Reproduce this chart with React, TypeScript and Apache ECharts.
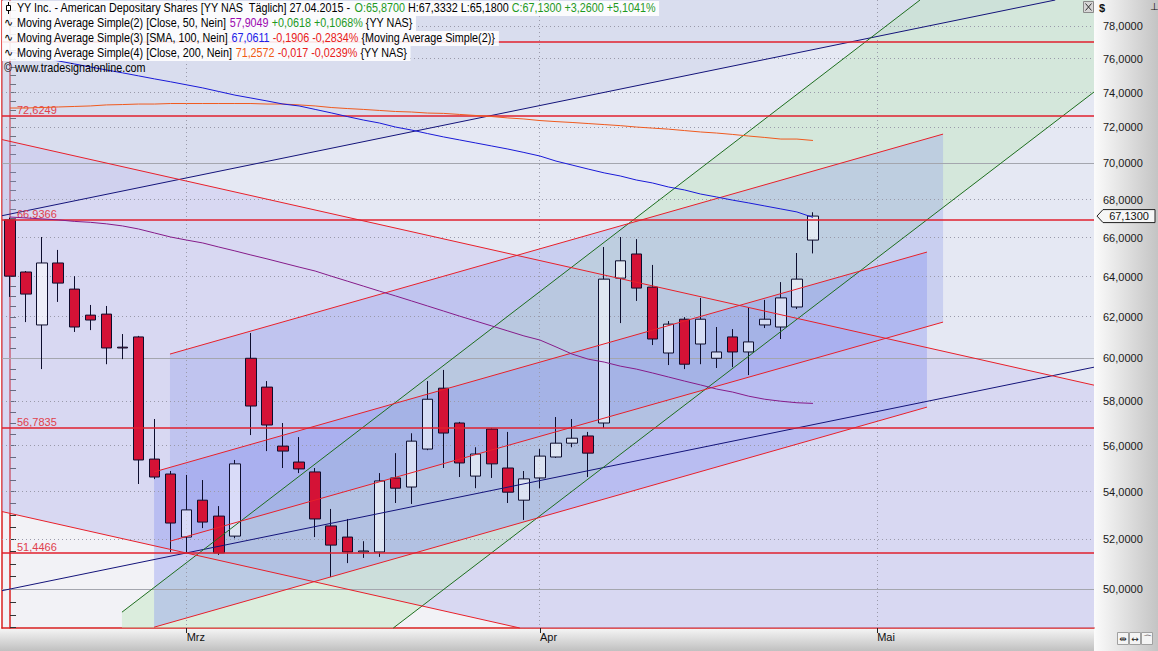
import React, { useEffect, useRef } from 'react';
import * as echarts from 'echarts';

// ---------------- data ----------------
const categories: string[] = [
  '12.02.2015','13.02.2015','17.02.2015','18.02.2015','19.02.2015','20.02.2015','23.02.2015','24.02.2015','25.02.2015','26.02.2015','27.02.2015',
  '02.03.2015','03.03.2015','04.03.2015','05.03.2015','06.03.2015','09.03.2015','10.03.2015','11.03.2015','12.03.2015','13.03.2015','16.03.2015','17.03.2015','18.03.2015','19.03.2015','20.03.2015','23.03.2015','24.03.2015','25.03.2015','26.03.2015','27.03.2015','30.03.2015','31.03.2015',
  '01.04.2015','02.04.2015','06.04.2015','07.04.2015','08.04.2015','09.04.2015','10.04.2015','13.04.2015','14.04.2015','15.04.2015','16.04.2015','17.04.2015','20.04.2015','21.04.2015','22.04.2015','23.04.2015','24.04.2015','27.04.2015',
  '28.04.2015','29.04.2015','30.04.2015','01.05.2015','04.05.2015','05.05.2015','06.05.2015','07.05.2015','08.05.2015','11.05.2015','12.05.2015','13.05.2015','14.05.2015','15.05.2015','18.05.2015','19.05.2015','20.05.2015'
];
const monthTickDates = ['02.03.2015', '01.04.2015', '01.05.2015'];
const monthTickLabels = ['Mrz', 'Apr', 'Mai'];

const opens = [66.93,64.23,61.60,64.69,63.37,62.08,62.13,60.53,61.02,55.41,54.76,52.10,53.64,52.97,52.14,60.00,58.65,55.98,55.28,54.85,52.56,52.10,51.49,51.49,54.59,54.20,55.85,58.60,57.01,54.67,56.74,55.02,53.64,54.59,55.50,56.11,56.43,57.01,63.92,65.15,63.47,60.25,61.88,60.68,60.00,61.02,60.30,61.60,61.50,62.48,65.87];
const closes = [64.02,63.12,64.69,63.67,61.50,61.84,60.49,60.49,55.37,54.63,52.68,53.23,52.72,51.45,55.20,57.78,56.92,55.76,54.98,52.85,51.77,51.49,51.53,54.46,54.15,56.20,58.09,56.56,55.24,55.63,55.20,53.98,54.55,55.54,56.11,56.33,55.67,63.87,64.80,63.42,60.92,61.64,59.72,61.88,60.30,60.30,60.78,61.88,62.93,63.87,67.13];
const lows = [62.98,61.74,59.49,62.73,61.26,61.35,59.72,59.96,54.33,54.54,51.49,51.45,52.47,51.37,52.05,56.47,55.76,55.02,54.80,52.10,50.48,51.04,51.25,51.29,53.52,53.48,55.80,55.02,54.63,54.15,54.59,53.52,52.81,54.15,55.46,55.93,54.63,56.79,61.69,62.78,60.63,59.68,59.49,59.72,59.54,59.58,59.21,61.45,60.92,62.38,65.18];
const highs = [67.05,64.28,66.03,65.36,64.02,62.58,62.53,61.16,61.07,57.19,54.89,54.72,54.50,53.39,55.37,61.21,58.93,57.01,56.38,55.02,53.27,52.85,51.93,54.80,55.67,56.55,58.93,59.45,57.06,55.93,56.79,56.61,54.89,55.85,57.28,57.19,56.61,65.51,66.03,65.92,64.59,61.79,61.98,62.93,61.50,61.40,62.43,62.83,63.72,65.20,67.3332];

const ma50 = [67.08,67.03,66.98,66.93,66.85,66.80,66.72,66.61,66.45,66.24,66.03,65.87,65.72,65.51,65.31,65.10,64.90,64.69,64.48,64.28,64.02,63.77,63.52,63.27,63.03,62.78,62.53,62.28,62.03,61.79,61.55,61.31,61.07,60.87,60.54,60.20,59.96,59.82,59.63,59.49,59.31,59.12,58.93,58.75,58.56,58.42,58.23,58.09,58.00,57.93,57.90];
const ma100 = [76.42,76.24,76.06,75.88,75.70,75.52,75.34,75.17,74.99,74.81,74.64,74.46,74.28,74.07,73.86,73.69,73.52,73.34,73.23,73.03,72.83,72.62,72.42,72.25,72.02,71.85,71.65,71.46,71.29,71.12,70.95,70.78,70.59,70.39,70.11,69.89,69.67,69.46,69.29,69.07,68.91,68.69,68.53,68.31,68.15,67.98,67.83,67.67,67.51,67.35,67.06];
const ma200 = [73.11,73.11,73.14,73.17,73.20,73.23,73.29,73.31,73.34,73.34,73.37,73.37,73.37,73.37,73.37,73.37,73.34,73.34,73.29,73.23,73.14,73.08,73.03,72.97,72.91,72.88,72.82,72.80,72.74,72.68,72.62,72.54,72.48,72.39,72.33,72.28,72.22,72.16,72.10,72.02,71.96,71.90,71.82,71.74,71.68,71.60,71.51,71.43,71.34,71.34,71.26];

const yTicks = [50, 52, 54, 56, 58, 60, 62, 64, 66, 68, 70, 72, 74, 76, 78];
const solidGridValues = [50, 60, 70];
const levelLines = [77.05, 72.6249, 66.9366, 56.7835, 51.4466];
const labelledLevels = [72.6249, 66.9366, 56.7835, 51.4466];
const yMinPrice = 48.49;
const yMaxPrice = 79.62;
const lastClose = 67.13;
const topBound = 95;

// trend lines: [category index, price]
const fallA = [[-0.5, 71.31], [67.5, 58.74]];
const fallB = [[-0.5, 53.16], [67.5, 43.79]];
const blueUp = [[-0.5, 67.15], [67.5, 80.12]];
const blueLow = [[-0.5, 49.94], [67.5, 59.58]];
const red1 = [[9.96, 60.20], [58.1, 71.62]];
const red2 = [[8.97, 54.85], [57.1, 65.25]];
const red3 = [[9.96, 51.93], [58.1, 61.74]];
const red4 = [[8.97, 48.52], [57.1, 57.73]];
const green1 = [[6.97, 49.10], [67.5, 88.47]];
const green2 = [[6.97, 41.16], [67.5, 74.04]];

// ---------------- helpers ----------------
const SANS = '"Liberation Sans", Arial, sans-serif';
const fmt4 = (v: number) => v.toFixed(4).replace('.', ',');

function clipPolygon(pts: number[][], x0: number, y0: number, x1: number, y1: number): number[][] {
  const clipEdge = (input: number[][], inside: (p: number[]) => boolean, inter: (a: number[], b: number[]) => number[]) => {
    const out: number[][] = [];
    for (let i = 0; i < input.length; i++) {
      const cur = input[i];
      const prev = input[(i + input.length - 1) % input.length];
      const ci = inside(cur), pi = inside(prev);
      if (ci) {
        if (!pi) out.push(inter(prev, cur));
        out.push(cur);
      } else if (pi) {
        out.push(inter(prev, cur));
      }
    }
    return out;
  };
  const ix = (xv: number) => (a: number[], b: number[]) => {
    const t = (xv - a[0]) / (b[0] - a[0]);
    return [xv, a[1] + t * (b[1] - a[1])];
  };
  const iy = (yv: number) => (a: number[], b: number[]) => {
    const t = (yv - a[1]) / (b[1] - a[1]);
    return [a[0] + t * (b[0] - a[0]), yv];
  };
  let r = pts;
  r = clipEdge(r, (p) => p[0] >= x0, ix(x0)); if (!r.length) return r;
  r = clipEdge(r, (p) => p[0] <= x1, ix(x1)); if (!r.length) return r;
  r = clipEdge(r, (p) => p[1] >= y0, iy(y0)); if (!r.length) return r;
  r = clipEdge(r, (p) => p[1] <= y1, iy(y1));
  return r;
}

function clipSeg(a: number[], b: number[], x0: number, y0: number, x1: number, y1: number) {
  let t0 = 0, t1 = 1;
  const dx = b[0] - a[0], dy = b[1] - a[1];
  const p = [-dx, dx, -dy, dy];
  const q = [a[0] - x0, x1 - a[0], a[1] - y0, y1 - a[1]];
  for (let i = 0; i < 4; i++) {
    if (p[i] === 0) {
      if (q[i] < 0) return null;
    } else {
      const t = q[i] / p[i];
      if (p[i] < 0) { if (t > t1) return null; if (t > t0) t0 = t; }
      else { if (t < t0) return null; if (t < t1) t1 = t; }
    }
  }
  return [[a[0] + t0 * dx, a[1] + t0 * dy], [a[0] + t1 * dx, a[1] + t1 * dy]];
}

export default function App() {
  const ref = useRef<HTMLDivElement>(null);

  useEffect(() => {
    document.body.style.margin = '0';
    const chart = echarts.init(ref.current!, undefined, { renderer: 'svg' });
    const ln = Math.log;
    const monthIdx = monthTickDates.map((d) => categories.indexOf(d));
    const xLo = -0.5, xHi = categories.length - 0.5;
    const crisp = (v: number) => Math.round(v - 0.5) + 0.5;

    const P = (api: any, p: number[]) => api.coord([p[0], ln(p[1])]);
    const poly = (api: any, cs: any, pts: number[][], fill: string) => {
      const px = clipPolygon(pts.map((p) => P(api, p)), cs.x, cs.y, cs.x + cs.width, cs.y + cs.height);
      return px.length > 2 ? { type: 'polygon', shape: { points: px }, style: { fill } } : null;
    };
    const seg = (api: any, cs: any, pts: number[][], stroke: string, width = 1) => {
      const c = clipSeg(P(api, pts[0]), P(api, pts[1]), cs.x, cs.y, cs.x + cs.width, cs.y + cs.height);
      return c ? { type: 'line', shape: { x1: c[0][0], y1: c[0][1], x2: c[1][0], y2: c[1][1] }, style: { stroke, lineWidth: width } } : null;
    };
    const hline = (cs: any, y: number, style: any) => ({
      type: 'line', shape: { x1: cs.x, y1: y, x2: cs.x + cs.width, y2: y }, style,
    });
    const layer = (z: number, build: (api: any, cs: any) => any[]) => ({
      type: 'custom', xAxisIndex: 1, yAxisIndex: 0, z, silent: true,
      data: [[0, ln(60)]],
      renderItem: (params: any, api: any) => ({
        type: 'group',
        children: build(api, params.coordSys).filter(Boolean),
      }),
    });

    const minorTicks: number[] = [];
    for (let v = 48.5; v <= 79.5; v += 0.5) minorTicks.push(ln(v));

    const option: any = {
      animation: false,
      grid: { left: 2, right: 64, top: 0, bottom: 23, show: true, backgroundColor: '#f2f2f6', borderWidth: 0 },
      xAxis: [
        {
          type: 'category', data: categories, boundaryGap: true,
          axisLine: { show: true, lineStyle: { color: '#d82020', width: 1.5 } },
          axisTick: { show: true, alignWithLabel: true, length: 5, interval: (i: number) => monthIdx.includes(i), lineStyle: { color: '#222' } },
          axisLabel: {
            show: true, interval: (i: number) => monthIdx.includes(i),
            formatter: (v: string) => monthTickLabels[monthTickDates.indexOf(v)] || '',
            align: 'left', margin: 3, color: '#111', fontSize: 11, fontFamily: SANS,
          },
          splitLine: { show: false },
        },
        { type: 'value', min: xLo, max: xHi, show: false },
      ],
      yAxis: [
        {
          type: 'value', position: 'right', min: ln(yMinPrice), max: ln(yMaxPrice),
          axisLine: { show: true, lineStyle: { color: '#d82020', width: 1.5 } },
          axisTick: { show: true, customValues: minorTicks, length: 6, lineStyle: { color: '#333' } },
          axisLabel: {
            show: true, customValues: yTicks.map((v) => ln(v)),
            formatter: (v: number) => fmt4(Math.exp(v)),
            color: '#1a1a1a', fontSize: 11, fontFamily: SANS, margin: 9,
          },
          splitLine: { show: false },
        },
        {
          type: 'value', position: 'left', min: ln(yMinPrice), max: ln(yMaxPrice),
          axisLine: { show: true, lineStyle: { color: '#d82020', width: 1.5 } },
          axisTick: { show: false }, axisLabel: { show: false }, splitLine: { show: false },
        },
      ],
      series: [
        layer(1, (api, cs) => [
          poly(api, cs, [fallA[0], fallA[1], [xHi, topBound], [xLo, topBound]], 'rgba(200,210,235,0.30)'),
          poly(api, cs, [blueUp[0], blueUp[1], [xHi, topBound], [xLo, topBound]], 'rgba(170,180,220,0.20)'),
          poly(api, cs, [fallA[0], fallA[1], fallB[1], fallB[0]], 'rgba(180,180,235,0.42)'),
        ]),
        layer(2, (api, cs) => [
          poly(api, cs, [green1[0], green1[1], green2[1], green2[0]], 'rgba(190,230,190,0.45)'),
          poly(api, cs, [red1[0], red1[1], red3[1], red3[0]], 'rgba(150,160,235,0.35)'),
          poly(api, cs, [red2[0], red2[1], red4[1], red4[0]], 'rgba(130,140,240,0.35)'),
        ]),
        layer(3, (api, cs) => [
          ...yTicks.filter((v) => !solidGridValues.includes(v)).map((v) =>
            hline(cs, crisp(api.coord([xLo, ln(v)])[1]), { stroke: '#9a9aaa', lineWidth: 1, lineDash: [1, 3] })),
          ...solidGridValues.map((v) =>
            hline(cs, crisp(api.coord([xLo, ln(v)])[1]), { stroke: '#a4a6ae', lineWidth: 1 })),
          ...monthIdx.map((i) => {
            const x = crisp(api.coord([i, ln(60)])[0]);
            return { type: 'line', shape: { x1: x, y1: cs.y, x2: x, y2: cs.y + cs.height }, style: { stroke: '#9a9aaa', lineWidth: 1, lineDash: [1, 3] } };
          }),
        ]),
        {
          type: 'candlestick', xAxisIndex: 0, yAxisIndex: 0, z: 4, silent: true, barWidth: 11,
          data: opens.map((o, i) => [ln(o), ln(closes[i]), ln(lows[i]), ln(highs[i])]),
          itemStyle: {
            color: 'rgba(255,255,255,0.55)', color0: '#d41236',
            borderColor: '#0d0d2d', borderColor0: '#0d0d2d', borderWidth: 1,
          },
        },
        layer(5, (api, cs) => [
          seg(api, cs, blueUp, '#14147a'),
          seg(api, cs, blueLow, '#14147a'),
          seg(api, cs, green1, '#1e6e1e'),
          seg(api, cs, green2, '#1e6e1e'),
          seg(api, cs, fallA, '#e8202a'),
          seg(api, cs, fallB, '#e8202a'),
          seg(api, cs, red1, '#e8202a'),
          seg(api, cs, red2, '#e8202a'),
          seg(api, cs, red3, '#e8202a'),
          seg(api, cs, red4, '#e8202a'),
          ...levelLines.map((v) => {
            const y = Math.round(api.coord([xLo, ln(v)])[1]);
            const children: any[] = [hline(cs, y, { stroke: '#e0202e', lineWidth: 1.5 })];
            if (labelledLevels.includes(v)) {
              children.push({ type: 'text', x: cs.x + 15, y: y - 1, style: { text: fmt4(v), fill: '#e0404c', fontSize: 11, fontFamily: SANS, verticalAlign: 'bottom', align: 'left' } });
            }
            return { type: 'group', children };
          }),
        ]),
        {
          type: 'line', xAxisIndex: 0, yAxisIndex: 0, z: 6, silent: true, symbol: 'none',
          data: ma200.map((v) => ln(v)), lineStyle: { color: '#f05a1e', width: 1 },
        },
        {
          type: 'line', xAxisIndex: 0, yAxisIndex: 0, z: 6, silent: true, symbol: 'none',
          data: ma100.map((v) => ln(v)), lineStyle: { color: '#1a1ad8', width: 1 },
        },
        {
          type: 'line', xAxisIndex: 0, yAxisIndex: 0, z: 6, silent: true, symbol: 'none',
          data: ma50.map((v) => ln(v)), lineStyle: { color: '#861c8a', width: 1 },
        },
      ],
    };
    chart.setOption(option);

    const py = chart.convertToPixel({ yAxisIndex: 0 }, ln(lastClose)) as number;
    const rowTop = [1, 16, 31, 46, 61];
    const SX = 0.83;
    const FS = 13;
    const rich = {
      g: { fill: '#1f9a1f', fontSize: FS, fontFamily: SANS },
      p: { fill: '#9c0ab0', fontSize: FS, fontFamily: SANS },
      b: { fill: '#2020e8', fontSize: FS, fontFamily: SANS },
      r: { fill: '#e82020', fontSize: FS, fontFamily: SANS },
      o: { fill: '#f05a14', fontSize: FS, fontFamily: SANS },
    };
    const legendTexts = [
      'YY Inc. - American Depositary Shares [YY NAS  Täglich] 27.04.2015 - {g|O:65,8700} H:67,3332 L:65,1800 {g|C:67,1300 +3,2600 +5,1041%}',
      'Moving Average Simple(2) [Close, 50, Nein] {p|57,9049} {g|+0,0618 +0,1068%} {YY NAS}',
      'Moving Average Simple(3) [SMA, 100, Nein] {b|67,0611} {r|-0,1906 -0,2834%} {Moving Average Simple(2)}',
      'Moving Average Simple(4) [Close, 200, Nein] {o|71,2572} {r|-0,017 -0,0239%} {YY NAS}',
    ];
    const graphics: any[] = [];
    legendTexts.forEach((t, i) => {
      graphics.push({
        type: 'text', x: 2, y: rowTop[i], z: 100, silent: true, scaleX: SX,
        style: {
          text: t, rich, fill: '#000', fontSize: FS, fontFamily: SANS, lineHeight: 14,
          backgroundColor: 'rgba(255,255,255,0.88)', padding: [0, 4, 1, 18], verticalAlign: 'top',
        },
      });
      if (i > 0) {
        graphics.push({
          type: 'text', x: 4, y: rowTop[i] + 1, z: 101, silent: true,
          style: { text: '∿', fill: '#000', fontSize: 11, fontFamily: '"DejaVu Sans", sans-serif', verticalAlign: 'top' },
        });
      }
    });
    graphics.push(
      { type: 'line', z: 101, silent: true, shape: { x1: 8.5, y1: 2, x2: 8.5, y2: 14 }, style: { stroke: '#000', lineWidth: 1 } },
      { type: 'rect', z: 102, silent: true, shape: { x: 6.5, y: 5.5, width: 4, height: 5 }, style: { fill: '#fff', stroke: '#000', lineWidth: 1 } },
      {
        type: 'text', x: 4, y: rowTop[4], z: 100, silent: true, scaleX: SX,
        style: { text: '© www.tradesignalonline.com', fill: '#000', fontSize: FS, fontFamily: SANS, verticalAlign: 'top' },
      },
      // price tag
      {
        type: 'polygon', z: 100, silent: true,
        shape: { points: [[1097, py], [1103, py - 6.5], [1155, py - 6.5], [1155, py + 6.5], [1103, py + 6.5]] },
        style: { fill: '#f6f6f6', stroke: '#222', lineWidth: 1 },
      },
      {
        type: 'text', x: 1129, y: py, z: 101, silent: true,
        style: { text: fmt4(lastClose), fill: '#111', fontSize: 11, fontFamily: SANS, align: 'center', verticalAlign: 'middle' },
      },
      // currency sign & close button
      { type: 'text', x: 1099, y: 2, z: 100, silent: true, style: { text: '$', fill: '#111', fontSize: 11, fontFamily: SANS, fontWeight: 'bold', verticalAlign: 'top' } },
      { type: 'rect', z: 100, silent: true, shape: { x: 1083.5, y: 1.5, width: 10, height: 11 }, style: { fill: '#d6d6d6', stroke: '#8a8a8a', lineWidth: 1 } },
      { type: 'line', z: 101, silent: true, shape: { x1: 1085.5, y1: 3.5, x2: 1091.5, y2: 10.5 }, style: { stroke: '#333', lineWidth: 1 } },
      { type: 'line', z: 101, silent: true, shape: { x1: 1091.5, y1: 3.5, x2: 1085.5, y2: 10.5 }, style: { stroke: '#333', lineWidth: 1 } },
      { type: 'text', x: 1150, y: 1, z: 100, silent: true, style: { text: '⊥', fill: '#111', fontSize: 10, fontFamily: '"DejaVu Sans", sans-serif', verticalAlign: 'top' } },
    );
    const iconGlyphs = ['⇹', '↔', '⌒'];
    iconGlyphs.forEach((g, i) => {
      const x = 1117 + i * 12;
      graphics.push(
        { type: 'rect', z: 100, silent: true, shape: { x: x + 0.5, y: 632.5, width: 11, height: 12 }, style: { fill: '#f4f4f4', stroke: '#a0a0a0', lineWidth: 1 } },
        { type: 'text', x: x + 6, y: 638.5, z: 101, silent: true, style: { text: g, fill: '#222', fontSize: 9, fontFamily: '"DejaVu Sans", sans-serif', align: 'center', verticalAlign: 'middle' } },
      );
    });
    chart.setOption({ graphic: graphics });

    return () => chart.dispose();
  }, []);

  return (
    <div style={{ position: 'relative', width: 1158, height: 651, overflow: 'hidden', background: '#ffffff' }}>
      <div style={{ position: 'absolute', left: 1094, top: 0, width: 64, height: 651, background: 'linear-gradient(to right, #fbfbfb, #c4c4c4)' }} />
      <div style={{ position: 'absolute', left: 0, top: 628, width: 1094, height: 23, background: 'linear-gradient(to bottom, #f6f6f6, #c0c0c0)' }} />
      <div ref={ref} style={{ position: 'absolute', left: 0, top: 0, width: 1158, height: 651 }} />
    </div>
  );
}
